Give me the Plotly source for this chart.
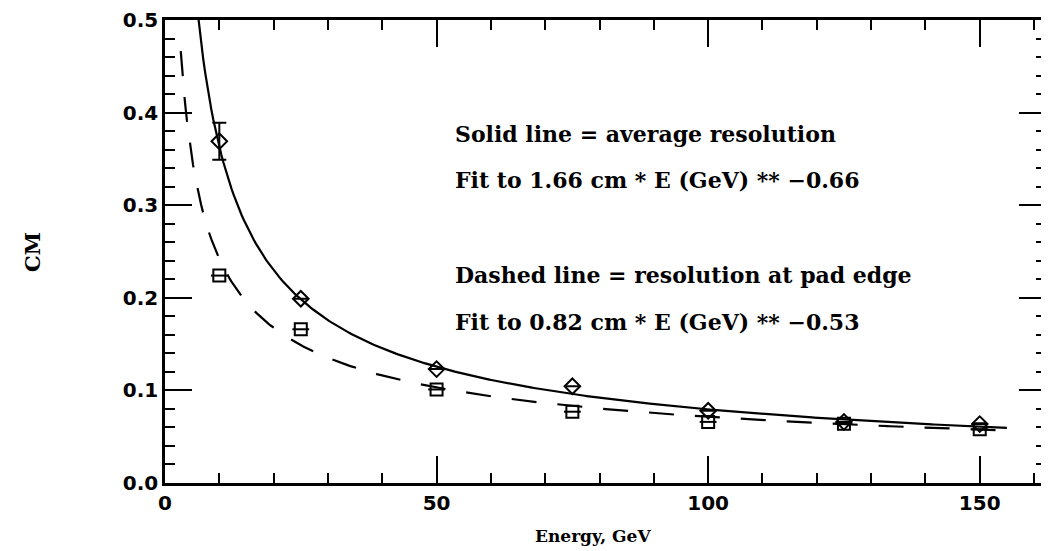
import numpy as np
import plotly.graph_objects as go

# ---- data ----
energy = [10, 25, 50, 75, 100, 125, 150]
avg_res = [0.369, 0.199, 0.123, 0.1045, 0.078, 0.066, 0.0636]
avg_err = [0.020, 0.0, 0.0, 0.0, 0.0, 0.0, 0.0]
edge_res = [0.224, 0.166, 0.101, 0.077, 0.066, 0.064, 0.058]

# fit parameters stated on the chart: sigma = a * E ** b
avg_fit = (1.66, -0.66)
edge_fit = (0.82, -0.53)
avg_fit_range = (5.9, 155)
edge_fit_range = (2.9, 153)

labels = [
    "Solid line = average resolution",
    "Fit to 1.66 cm * E (GeV) ** \u22120.66",
    "Dashed line = resolution at pad edge",
    "Fit to 0.82 cm * E (GeV) ** \u22120.53",
]
label_y = [0.377, 0.3276, 0.2246, 0.1734]
label_x = 53.0

OFF = 8  # default page margin of the html body
W, H = 1049 - OFF, 551 - OFF
L, R, T, B = 165 - OFF, 0, 14 - OFF, 551 - 483
xmax = 162.2

TXT = dict(family="DejaVu Serif", size=22, color="black", weight="bold")
TITLE = dict(family="DejaVu Serif", size=17, color="black", weight="bold")
TICK = dict(family="DejaVu Sans", size=20, color="black", weight="bold")

fig = go.Figure()

xs = np.linspace(*avg_fit_range, 400)
fig.add_trace(go.Scatter(x=xs, y=avg_fit[0] * xs ** avg_fit[1], mode="lines",
                         line=dict(color="black", width=2.2), hoverinfo="skip"))
xe = np.linspace(*edge_fit_range, 400)
fig.add_trace(go.Scatter(x=xe, y=edge_fit[0] * xe ** edge_fit[1], mode="lines",
                         line=dict(color="black", width=2.2, dash="25px,21px"),
                         hoverinfo="skip"))

# squares with a horizontal middle bar
fig.add_trace(go.Scatter(x=energy, y=edge_res, mode="markers",
                         marker=dict(symbol="square-open", size=12, color="black",
                                     line=dict(width=2, color="black"))))
fig.add_trace(go.Scatter(x=energy, y=edge_res, mode="markers",
                         marker=dict(symbol="line-ew", size=12, color="black",
                                     line=dict(width=2, color="black"))))
# diamonds with error bars
fig.add_trace(go.Scatter(x=energy, y=avg_res, mode="markers",
                         error_y=dict(type="data", array=avg_err, visible=True,
                                      color="black", thickness=2, width=7),
                         marker=dict(symbol="diamond-open", size=12, color="black",
                                     line=dict(width=2, color="black"))))

for t, yv in zip(labels, label_y):
    fig.add_annotation(x=label_x, y=yv, xref="x", yref="y", text=t, showarrow=False,
                       xanchor="left", yanchor="middle", font=TXT)

pw, ph = W - L - R, H - T - B
fig.add_annotation(x=(594 - OFF - L) / pw, y=-(537 - OFF - (H - B)) / ph,
                   xref="paper", yref="paper", text="Energy, GeV", showarrow=False,
                   xanchor="center", yanchor="middle", font=TITLE)
fig.add_annotation(x=-(L - (32 - OFF)) / pw, y=0.5, xref="paper", yref="paper",
                   text="CM", showarrow=False, textangle=-90,
                   xanchor="center", yanchor="middle",
                   font=dict(TITLE, size=21))

axis_common = dict(showline=True, linecolor="black", linewidth=2.5, mirror="allticks",
                   ticks="inside", ticklen=27, tickwidth=2, tickcolor="black",
                   showgrid=False, zeroline=False, tickfont=TICK,
                   ticklabeloverflow="allow")

fig.update_xaxes(range=[0, xmax], dtick=50, tick0=0,
                 minor=dict(dtick=10, ticks="inside", ticklen=10, tickwidth=2,
                            tickcolor="black", showgrid=False),
                 **axis_common)
fig.update_yaxes(range=[0, 0.5], dtick=0.1, tick0=0, tickformat=".1f",
                 minor=dict(dtick=0.02, ticks="inside", ticklen=10, tickwidth=2,
                            tickcolor="black", showgrid=False),
                 **axis_common)

fig.update_layout(width=W, height=H, margin=dict(l=L, r=R, t=T, b=B),
                  paper_bgcolor="white", plot_bgcolor="white", showlegend=False)

fig.write_html("out.html")
